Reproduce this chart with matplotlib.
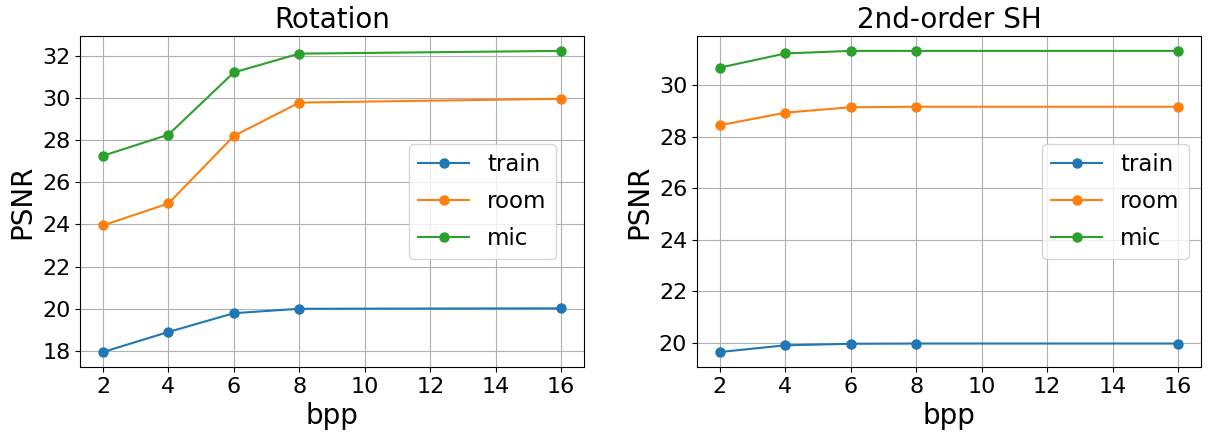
import numpy as np
import matplotlib.pyplot as plt

bpp = [2, 4, 6, 8, 16]
scenes = ['train', 'room', 'mic']

# PSNR vs bits per parameter, quantizing rotation
rot_train = [17.95, 18.90, 19.79, 20.00, 20.02]
rot_room = [23.95, 24.99, 28.19, 29.77, 29.95]
rot_mic = [27.25, 28.25, 31.20, 32.09, 32.22]

# PSNR vs bits per parameter, quantizing 2nd-order SH coefficients
sh_train = [19.64, 19.90, 19.96, 19.97, 19.97]
sh_room = [28.45, 28.94, 29.15, 29.17, 29.17]
sh_mic = [30.69, 31.24, 31.34, 31.34, 31.34]

panels = [
    ('Rotation', [rot_train, rot_room, rot_mic], (0.944, 0.5)),
    ('2nd-order SH', [sh_train, sh_room, sh_mic], (0.976, 0.5)),
]

fig, axes = plt.subplots(1, 2, figsize=(12.13, 4.37), dpi=100)
plt.subplots_adjust(left=0.066, right=0.990, bottom=0.160, top=0.918, wspace=0.224)

for ax, (title, series, anchor) in zip(axes, panels):
    for name, vals in zip(scenes, series):
        ax.plot(bpp, vals, marker='o', markersize=6.5, label=name)
    ax.set_title(title, fontsize=20)
    ax.set_xlabel('bpp', fontsize=20)
    ax.set_ylabel('PSNR', fontsize=20)
    ax.set_xticks(np.arange(2, 17, 2))
    ax.yaxis.set_major_locator(plt.MultipleLocator(2))
    ax.tick_params(labelsize=16)
    ax.grid(True)
    ax.legend(loc='center right', bbox_to_anchor=anchor, borderaxespad=0,
              fontsize=16.5, labelspacing=0.6, handlelength=2.2)

plt.savefig('out.png')
